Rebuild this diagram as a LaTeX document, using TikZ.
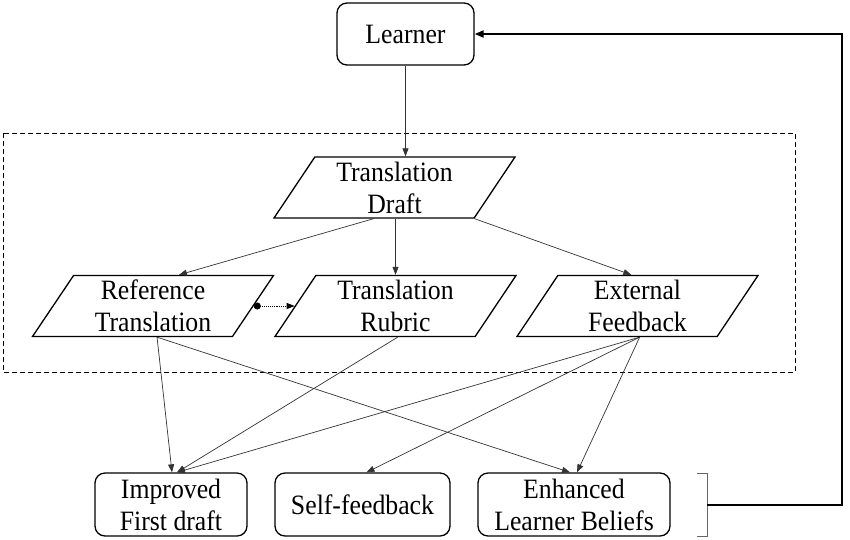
\documentclass[tikz,border=0pt]{standalone}
\usepackage{fontspec}
\setmainfont[FakeStretch=0.92]{Liberation Serif}
\usetikzlibrary{shapes.geometric,arrows.meta,calc}
\begin{document}
\begin{tikzpicture}[x=1pt,y=-1pt,
  txt/.style={font=\fontsize{28}{32}\selectfont, align=center, inner sep=0pt},
  rbox/.style={txt, draw, line width=1.3pt, rounded corners=10pt},
  para/.style={txt, draw, line width=1.3pt, trapezium, trapezium stretches body,
     trapezium left angle=51.7, trapezium right angle=128.3,
     minimum width=241pt, minimum height=61pt},
  conn/.style={line width=0.7pt, draw=black!80, -{Triangle[length=8pt,width=6pt]}},
]
\useasboundingbox (0,0) rectangle (850,539);
\draw[line width=0.9pt, dash pattern=on 5pt off 3pt] (3,133) rectangle (795,372);

\node[rbox, minimum width=137pt, minimum height=62pt] (learner) at (405.5,34) {Learner};
\node[para] (draft) at (394.5,187.5) {Translation\\Draft};
\node[para] (ref) at (153,306) {Reference\\Translation};
\node[para] (rubric) at (395.5,306) {Translation\\Rubric};
\node[para] (ext) at (637.5,306) {External\\Feedback};
\node[rbox, minimum width=152pt, minimum height=63pt] (improved) at (171,504.5) {Improved\\First draft};
\node[rbox, minimum width=175pt, minimum height=63pt] (self) at (362.5,504.5) {Self-feedback};
\node[rbox, minimum width=192pt, minimum height=63pt] (enh) at (574,504.5) {Enhanced\\Learner Beliefs};

\draw[conn] (learner.south) -- (learner.south |- draft.top side);
\draw[conn] (draft.bottom side) -- ([xshift=5pt]ref.top side);
\draw[conn] (draft.bottom side -| rubric.center) -- (rubric.top side -| rubric.center);
\draw[conn] (draft.bottom right corner) -- ([xshift=-27pt]ext.top side);

\draw[line width=0.9pt, densely dotted, {Circle[length=7pt]}-{Triangle[length=8pt,width=6pt]}]
  ($(ref.top right corner)!0.5!(ref.bottom right corner)$) -- (ref.center -| rubric.left side);

\draw[conn] ([xshift=25pt]ref.bottom side) -- ([xshift=1pt]improved.north);
\draw[conn] ([xshift=25pt]ref.bottom side) -- ([xshift=-4pt]enh.north);
\draw[conn] ([xshift=23pt]rubric.bottom side) -- ([xshift=6pt]improved.north);
\draw[conn] ([xshift=23pt]ext.bottom side) -- ([xshift=6pt]improved.north);
\draw[conn] ([xshift=23pt]ext.bottom side) -- ([xshift=4pt]self.north);
\draw[conn] ([xshift=23pt]ext.bottom side) -- ([xshift=3pt]enh.north);

\coordinate (bt) at (697,473);
\coordinate (bb) at (697,536);
\coordinate (bm) at (707,505);
\coordinate (corner) at (842,505);
\draw[line width=0.8pt, draw=black!60] (bt) -- (bt -| bm) -- (bb -| bm) -- (bb);
\draw[line width=2pt, -{Triangle[length=9pt,width=7pt]}] (bm) -- (corner) -- (corner |- learner.east) -- (learner.east);
\end{tikzpicture}
\end{document}
